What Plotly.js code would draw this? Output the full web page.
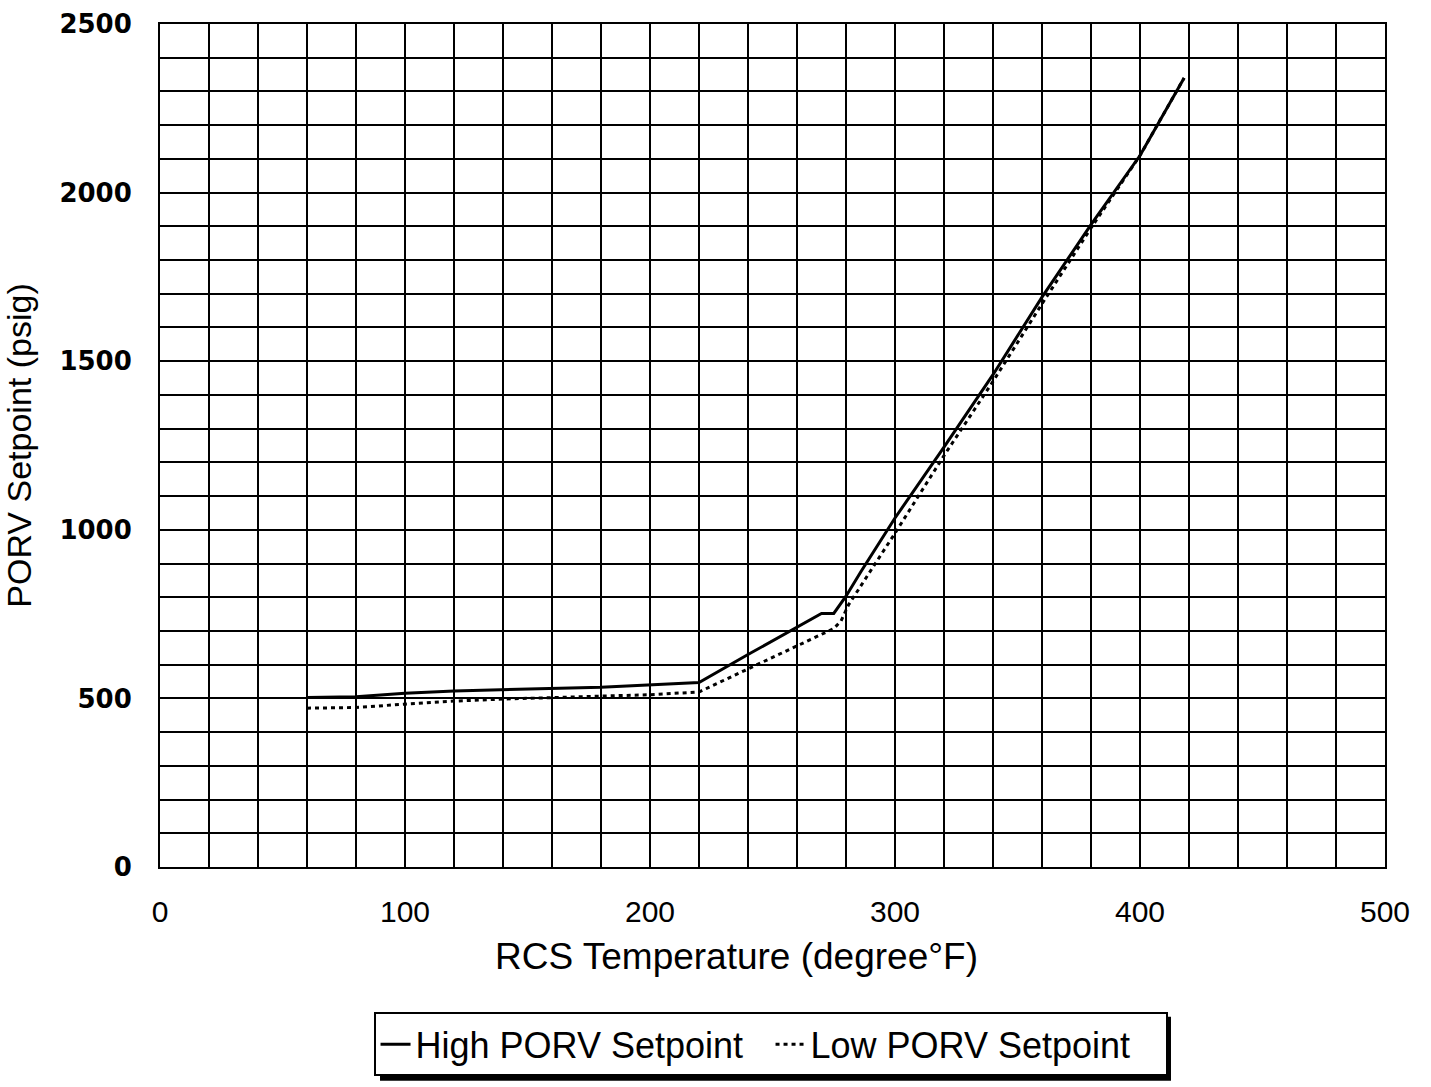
<!DOCTYPE html>
<html>
<head>
<meta charset="utf-8">
<script src="https://cdn.plot.ly/plotly-3.0.1.min.js"></script>
<style>html,body{margin:0;padding:0;background:#fff;}</style>
</head>
<body>
<div id="chart" style="width:1431px;height:1087px;"></div>
<script>
// RCS temperature (degree F) and PORV setpoint (psig)
const highT = [60, 80, 100, 120, 180, 200, 220, 240, 260, 270, 275, 280, 286, 300, 320, 340, 360, 380, 400, 418];
const highP = [503, 505, 515, 522, 533, 540, 547, 630, 710, 752, 752, 803, 875, 1035, 1245, 1460, 1690, 1905, 2110, 2340];
const lowT = [60, 80, 100, 120, 140, 180, 200, 220, 242, 260, 275, 278, 281, 300, 320, 340, 360, 380, 400, 418];
const lowP = [471, 473, 483, 492, 498, 508, 511, 519, 595, 657, 707, 730, 777, 990, 1220, 1440, 1670, 1895, 2110, 2340];
const seriesNames = ["High PORV Setpoint", "Low PORV Setpoint"];
const xTicks = [0, 100, 200, 300, 400, 500];
const yTicks = [0, 500, 1000, 1500, 2000, 2500];
const xTitle = 'RCS Temperature (degree°F)';
const yTitle = 'PORV Setpoint (psig)';

const traces = [
  {x: highT, y: highP, name: seriesNames[0], type: 'scatter', mode: 'lines',
   line: {color: '#000', width: 3}},
  {x: lowT, y: lowP, name: seriesNames[1], type: 'scatter', mode: 'lines',
   line: {color: '#000', width: 3, dash: '4px,4px'}}
];

const FONT = 'Liberation Sans, Arial, sans-serif';
const layout = {
  width: 1431, height: 1087,
  margin: {l: 160, r: 46, t: 24, b: 219},
  paper_bgcolor: '#fff', plot_bgcolor: '#fff',
  font: {family: FONT, color: '#000'},
  showlegend: true,
  legend: {
    orientation: 'h', x: 0.4984, xanchor: 'center', y: -0.171, yanchor: 'top',
    bordercolor: '#000', borderwidth: 2, bgcolor: '#fff',
    font: {size: 36, family: FONT, color: '#000'},
    itemwidth: 30, entrywidth: 350, entrywidthmode: 'pixels'
  },
  shapes: [
    {type: 'rect', xref: 'paper', yref: 'paper', layer: 'below',
     x0: 0.1796, x1: 0.8253, y0: -0.2536, y1: -0.1777,
     fillcolor: '#000', line: {width: 0}}
  ],
  annotations: [
    {text: xTitle, xref: 'paper', yref: 'paper', x: 0.471, y: -0.1066,
     xanchor: 'center', yanchor: 'middle', showarrow: false,
     font: {size: 37, family: FONT, color: '#000'}}
  ],
  xaxis: {
    range: [0, 500], tickvals: xTicks, ticktext: xTicks.map(String),
    showgrid: true, gridcolor: '#000', gridwidth: 2,
    minor: {dtick: 20, showgrid: true, gridcolor: '#000', gridwidth: 2},
    showline: true, linecolor: '#000', linewidth: 2, mirror: true,
    zeroline: false, ticks: '', ticklabelstandoff: 17,
    tickfont: {size: 30, family: FONT, color: '#000'}
  },
  yaxis: {
    range: [0, 2500], tickvals: yTicks, ticktext: yTicks.map(String),
    showgrid: true, gridcolor: '#000', gridwidth: 2,
    minor: {dtick: 100, showgrid: true, gridcolor: '#000', gridwidth: 2},
    showline: true, linecolor: '#000', linewidth: 2, mirror: true,
    zeroline: false, ticks: '', ticklabelstandoff: 21,
    tickfont: {size: 26, family: 'DejaVu Sans, Verdana, sans-serif', weight: 'bold', color: '#000'},
    title: {text: yTitle, standoff: 18,
            font: {size: 34, family: FONT, color: '#000'}}
  }
};

Plotly.newPlot('chart', traces, layout, {displayModeBar: false, staticPlot: true});
</script>
</body>
</html>
